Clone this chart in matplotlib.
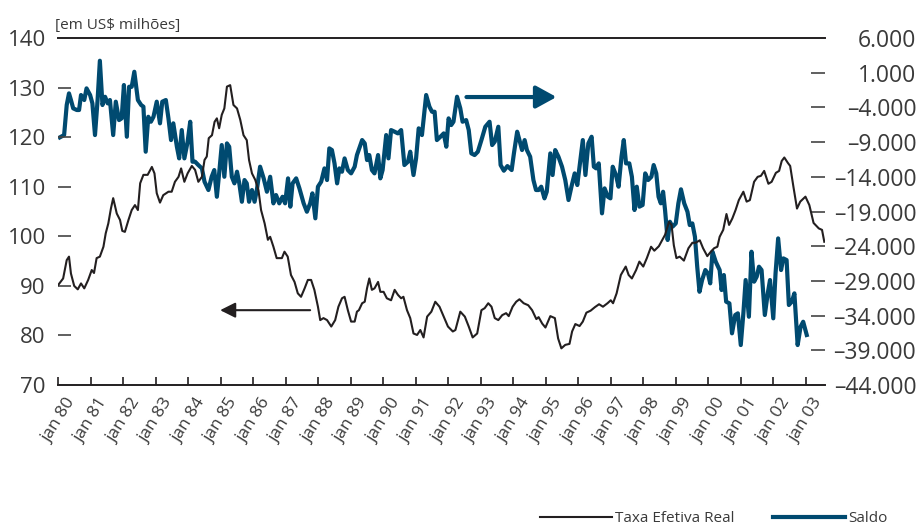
import matplotlib
matplotlib.use("Agg")
import matplotlib.pyplot as plt
import matplotlib.transforms as mtransforms
from matplotlib.lines import Line2D

plt.rcParams['font.family'] = ['Liberation Sans Narrow', 'Open Sans', 'DejaVu Sans']

# Taxa efetiva real (índice) - eixo da esquerda
taxa_t = [1980.00, 1980.15, 1980.26, 1980.33, 1980.39, 1980.49, 1980.60, 1980.70, 1980.80, 1980.92,
          1981.03, 1981.10, 1981.18, 1981.28, 1981.39, 1981.46, 1981.54, 1981.62, 1981.69, 1981.80,
          1981.90, 1981.97, 1982.05, 1982.16, 1982.26, 1982.36, 1982.45, 1982.52, 1982.62, 1982.75,
          1982.88, 1982.96, 1983.03, 1983.13, 1983.23, 1983.39, 1983.49, 1983.59, 1983.70, 1983.78,
          1983.88, 1983.98, 1984.11, 1984.21, 1984.31, 1984.42, 1984.50, 1984.57, 1984.63, 1984.73,
          1984.81, 1984.88, 1984.95, 1985.03, 1985.11, 1985.19, 1985.29, 1985.39, 1985.50, 1985.60,
          1985.70, 1985.80, 1985.87, 1985.96, 1986.06, 1986.16, 1986.24, 1986.35, 1986.45, 1986.52,
          1986.62, 1986.72, 1986.88, 1986.96, 1987.06, 1987.16, 1987.27, 1987.37, 1987.47, 1987.58,
          1987.68, 1987.78, 1987.88, 1987.99, 1988.06, 1988.16, 1988.27, 1988.40, 1988.52, 1988.62,
          1988.73, 1988.81, 1988.91, 1989.01, 1989.12, 1989.19, 1989.25, 1989.35, 1989.43, 1989.50,
          1989.57, 1989.65, 1989.73, 1989.84, 1989.91, 1990.01, 1990.11, 1990.24, 1990.35, 1990.45,
          1990.55, 1990.62, 1990.73, 1990.83, 1990.93, 1991.04, 1991.14, 1991.24, 1991.35, 1991.48,
          1991.60, 1991.73, 1991.86, 1991.99, 1992.14, 1992.22, 1992.37, 1992.51, 1992.63, 1992.75,
          1992.89, 1993.02, 1993.12, 1993.23, 1993.33, 1993.43, 1993.54, 1993.66, 1993.78, 1993.86,
          1993.98, 1994.09, 1994.19, 1994.32, 1994.46, 1994.58, 1994.71, 1994.78, 1994.89, 1994.99,
          1995.14, 1995.28, 1995.38, 1995.48, 1995.60, 1995.73, 1995.81, 1995.91, 1996.04, 1996.14,
          1996.25, 1996.38, 1996.51, 1996.64, 1996.76, 1996.90, 1997.00, 1997.07, 1997.18, 1997.31,
          1997.46, 1997.55, 1997.65, 1997.78, 1997.88, 1998.00, 1998.11, 1998.24, 1998.34, 1998.48,
          1998.67, 1998.79, 1998.87, 1998.94, 1999.02, 1999.12, 1999.25, 1999.39, 1999.51, 1999.61,
          1999.74, 1999.84, 1999.97, 2000.08, 2000.18, 2000.28, 2000.35, 2000.46, 2000.56, 2000.64,
          2000.74, 2000.84, 2000.94, 2001.08, 2001.18, 2001.28, 2001.41, 2001.52, 2001.62, 2001.72,
          2001.85, 2001.95, 2002.08, 2002.18, 2002.26, 2002.34, 2002.45, 2002.52, 2002.62, 2002.73,
          2002.83, 2002.99, 2003.11, 2003.24, 2003.40, 2003.50, 2003.57]
taxa_v = [90.2, 91.5, 95.2, 95.9, 92.5, 90.0, 89.3, 90.5, 89.5, 91.2,
          93.2, 92.6, 95.6, 95.9, 97.9, 100.6, 102.6, 105.6, 107.7, 104.6,
          103.3, 101.1, 100.9, 103.3, 105.3, 106.3, 105.3, 110.7, 112.4, 112.4,
          114.0, 112.7, 108.7, 106.8, 108.3, 109.0, 109.0, 111.0, 112.0, 113.7,
          111.0, 112.7, 114.2, 113.4, 111.0, 112.0, 115.4, 116.1, 119.8, 120.4,
          123.1, 123.8, 121.8, 124.5, 125.8, 130.2, 130.5, 126.5, 125.8, 123.5,
          120.4, 119.4, 115.4, 112.7, 111.4, 109.3, 105.3, 102.6, 99.3, 99.9,
          97.9, 95.6, 95.6, 96.9, 95.9, 92.2, 90.8, 88.5, 87.8, 89.5,
          91.2, 91.2, 89.2, 85.8, 83.1, 83.5, 83.1, 81.8, 83.1, 85.8,
          87.5, 87.8, 85.1, 82.8, 82.8, 84.8, 85.1, 86.5, 86.8, 89.5,
          91.5, 89.2, 89.5, 90.8, 88.8, 88.8, 87.5, 87.1, 89.2, 88.2,
          87.5, 87.8, 85.1, 83.5, 80.4, 80.1, 81.1, 79.6, 83.8, 84.8,
          86.8, 85.8, 83.8, 81.8, 80.8, 81.1, 84.8, 83.8, 81.8, 79.6,
          80.4, 85.1, 85.5, 86.5, 85.8, 83.5, 83.1, 84.1, 84.5, 83.9,
          85.8, 86.8, 87.3, 86.5, 86.1, 85.1, 83.3, 83.7, 82.4, 81.6,
          83.9, 83.5, 79.4, 77.4, 78.1, 78.3, 80.8, 82.3, 81.9, 82.8,
          84.6, 85.0, 85.7, 86.3, 85.8, 86.5, 87.1, 86.5, 88.5, 92.2,
          93.9, 92.2, 91.5, 93.2, 94.9, 93.9, 95.6, 97.9, 97.1, 98.0,
          100.3, 102.9, 102.3, 98.2, 95.6, 95.9, 95.1, 97.6, 98.7, 98.7,
          99.2, 97.6, 96.0, 96.9, 97.6, 97.9, 99.9, 101.3, 104.5, 102.3,
          103.6, 105.3, 107.3, 109.0, 107.0, 107.3, 111.0, 112.0, 112.2, 113.2,
          110.6, 111.0, 112.8, 113.2, 115.2, 115.9, 114.8, 114.2, 110.0, 105.6,
          107.0, 108.0, 106.3, 102.7, 101.6, 101.3, 98.9]

# Saldo (US$ milhões) - eixo da direita
saldo_t = [1980.05, 1980.18, 1980.26, 1980.33, 1980.39, 1980.46, 1980.57, 1980.64, 1980.70, 1980.80,
           1980.87, 1980.98, 1981.05, 1981.13, 1981.21, 1981.28, 1981.36, 1981.44, 1981.52, 1981.59,
           1981.69, 1981.77, 1981.87, 1981.95, 1982.02, 1982.11, 1982.18, 1982.26, 1982.34, 1982.45,
           1982.55, 1982.62, 1982.69, 1982.77, 1982.85, 1982.93, 1983.03, 1983.13, 1983.20, 1983.31,
           1983.39, 1983.47, 1983.54, 1983.65, 1983.72, 1983.80, 1983.88, 1983.98, 1984.06, 1984.13,
           1984.21, 1984.31, 1984.42, 1984.50, 1984.62, 1984.72, 1984.80, 1984.88, 1984.95, 1985.03,
           1985.11, 1985.19, 1985.26, 1985.34, 1985.42, 1985.50, 1985.57, 1985.65, 1985.73, 1985.80,
           1985.87, 1985.96, 1986.04, 1986.11, 1986.21, 1986.32, 1986.42, 1986.52, 1986.62, 1986.70,
           1986.80, 1986.90, 1986.98, 1987.07, 1987.14, 1987.21, 1987.32, 1987.42, 1987.55, 1987.65,
           1987.75, 1987.82, 1987.91, 1987.99, 1988.09, 1988.19, 1988.27, 1988.34, 1988.42, 1988.50,
           1988.58, 1988.65, 1988.73, 1988.81, 1988.91, 1989.01, 1989.12, 1989.19, 1989.35, 1989.43,
           1989.50, 1989.57, 1989.65, 1989.73, 1989.84, 1989.91, 1989.98, 1990.09, 1990.16, 1990.24,
           1990.35, 1990.45, 1990.55, 1990.65, 1990.76, 1990.83, 1990.93, 1991.01, 1991.09, 1991.19,
           1991.32, 1991.42, 1991.50, 1991.58, 1991.65, 1991.76, 1991.86, 1991.94, 1992.01, 1992.09,
           1992.16, 1992.27, 1992.37, 1992.44, 1992.55, 1992.63, 1992.71, 1992.81, 1992.91, 1993.02,
           1993.14, 1993.27, 1993.35, 1993.43, 1993.54, 1993.61, 1993.71, 1993.82, 1993.95, 1994.02,
           1994.12, 1994.19, 1994.27, 1994.35, 1994.42, 1994.52, 1994.62, 1994.70, 1994.78, 1994.86,
           1994.96, 1995.03, 1995.14, 1995.21, 1995.29, 1995.39, 1995.50, 1995.60, 1995.70, 1995.79,
           1995.89, 1995.97, 1996.07, 1996.14, 1996.22, 1996.31, 1996.41, 1996.48, 1996.55, 1996.63,
           1996.73, 1996.81, 1996.91, 1996.99, 1997.06, 1997.16, 1997.24, 1997.33, 1997.40, 1997.47,
           1997.57, 1997.65, 1997.73, 1997.80, 1997.88, 1997.98, 1998.06, 1998.15, 1998.25, 1998.32,
           1998.40, 1998.47, 1998.54, 1998.61, 1998.67, 1998.75, 1998.82, 1998.90, 1999.00, 1999.08,
           1999.16, 1999.26, 1999.36, 1999.43, 1999.51, 1999.59, 1999.66, 1999.73, 1999.81, 1999.91,
           1999.99, 2000.06, 2000.13, 2000.23, 2000.35, 2000.41, 2000.48, 2000.55, 2000.65, 2000.73,
           2000.83, 2000.91, 2001.00, 2001.08, 2001.15, 2001.25, 2001.33, 2001.41, 2001.49, 2001.56,
           2001.64, 2001.74, 2001.83, 2001.90, 2002.00, 2002.07, 2002.15, 2002.24, 2002.31, 2002.41,
           2002.48, 2002.57, 2002.65, 2002.75, 2002.84, 2002.92, 2003.03]
saldo_v = [-8310, -7980, -3650, -1970, -2930, -4130, -4370, -4370, -2210, -2930,
           -1250, -2210, -3410, -7980, -2930, 2730, -3650, -2460, -3410, -2930,
           -7980, -3170, -5820, -5570, -770, -8220, -1020, -1020, 1140, -2930,
           -3650, -3890, -10380, -5340, -6060, -5340, -3170, -6290, -3170, -2930,
           -5570, -8700, -6290, -9660, -11340, -7260, -11340, -8940, -6060, -11820,
           -11820, -12300, -12780, -14700, -15900, -13990, -13020, -16870, -13500, -9420,
           -13990, -9180, -9660, -13990, -14940, -13260, -14940, -17590, -14460, -14940,
           -17590, -15900, -17590, -15900, -12540, -14220, -16150, -13990, -17820, -16620,
           -17820, -16870, -17820, -14220, -18300, -14940, -14220, -15660, -17820, -19030,
           -17820, -16380, -19980, -15420, -14700, -12780, -14460, -9900, -10140, -12060,
           -14940, -12780, -13260, -11340, -13020, -13500, -12540, -10860, -8700, -9180,
           -11580, -10860, -13020, -13500, -10860, -14220, -13020, -7980, -11340, -7260,
           -7500, -7740, -7260, -12300, -11820, -10380, -13740, -11340, -7010, -7980,
           -2210, -3890, -4620, -4620, -8700, -8220, -7740, -9660, -5570, -6540,
           -6060, -2460, -4130, -6060, -5820, -7260, -10620, -10860, -10380, -8700,
           -6780, -6060, -9420, -8940, -6780, -12300, -13120, -12450, -13020, -10620,
           -7500, -8700, -10140, -8700, -10140, -11100, -14460, -15900, -15900, -15420,
           -17100, -16150, -10620, -13740, -10140, -11100, -12540, -14460, -17340, -15420,
           -13500, -15180, -11340, -8700, -13740, -9180, -8220, -12540, -12780, -12060,
           -19260, -15660, -16870, -17100, -12540, -13740, -15420, -11100, -8700, -12060,
           -12060, -13990, -18780, -15420, -18300, -18060, -13500, -14460, -13990, -12300,
           -13500, -16870, -17820, -16150, -18780, -23100, -20470, -21190, -20710, -17820,
           -15800, -17820, -19030, -20950, -20710, -22630, -26950, -30560, -28870, -27430,
           -27910, -29350, -24790, -26230, -27430, -30310, -28150, -31990, -32230, -36550,
           -33910, -33670, -38240, -33670, -28870, -34160, -24790, -29110, -28390, -26950,
           -27430, -33910, -30790, -28870, -34390, -27910, -22870, -27430, -25750, -25990,
           -32470, -31990, -30790, -38240, -35600, -34880, -36790]

anos = list(range(1980, 2004))
rotulos_x = ['jan %02d' % (a % 100) for a in anos]
ticks_esq = [70, 80, 90, 100, 110, 120, 130, 140]
ticks_dir = [-44000, -39000, -34000, -29000, -24000, -19000, -14000, -9000, -4000, 1000, 6000]

PRETO = '#231f20'
AZUL = '#004a70'
CINZA = '#3a3a3a'


def fmt_milhar(v):
    s = '{:,}'.format(abs(int(v))).replace(',', '.')
    return ('\u2013' + s) if v < 0 else s


fig = plt.figure(figsize=(9.19, 5.27), dpi=100)
ax = fig.add_axes([0.0634, 0.2694, 0.8339, 0.6584])
ax2 = ax.twinx()

ax2.plot(saldo_t, saldo_v, color=AZUL, lw=3.0, solid_joinstyle='round')
ax.plot(taxa_t, taxa_v, color=PRETO, lw=1.5)

# a taxa fica por cima do saldo
ax.set_zorder(ax2.get_zorder() + 1)
ax.patch.set_visible(False)

ax.set_xlim(1980, 2003.58)
ax.set_ylim(70, 140)
ax2.set_ylim(-44000, 6000)

for s in ['left', 'right']:
    ax.spines[s].set_visible(False)
for s in ax2.spines.values():
    s.set_visible(False)
for s in ['top', 'bottom']:
    ax.spines[s].set_color(PRETO)
    ax.spines[s].set_linewidth(1.4)

# eixo x
ax.set_xticks(anos)
ax.set_xticklabels(rotulos_x, rotation=58, ha='right', rotation_mode='anchor',
                   fontsize=12.5, color=CINZA)
ax.tick_params(axis='x', direction='in', length=6, width=1.2, color=PRETO, pad=7)
desloc = mtransforms.ScaledTranslation(5 / 72, 0, fig.dpi_scale_trans)
for lbl in ax.get_xticklabels():
    lbl.set_transform(lbl.get_transform() + desloc)

# eixo esquerdo
ax.set_yticks(ticks_esq)
ax.set_yticklabels([str(v) for v in ticks_esq])
ax.tick_params(axis='y', direction='in', length=9.5, width=1.2, color='#444444',
               pad=9, labelsize=16, labelcolor=CINZA)
for t, v in zip(ax.yaxis.get_major_ticks(), ticks_esq):
    if v in (70, 140):
        t.tick1line.set_visible(False)

# eixo direito
ax2.set_yticks(ticks_dir)
ax2.set_yticklabels([fmt_milhar(v) for v in ticks_dir])
ax2.tick_params(axis='y', direction='in', length=10, width=1.2, color='#444444',
                pad=66, labelsize=16.5, labelcolor=CINZA)
for t, v in zip(ax2.yaxis.get_major_ticks(), ticks_dir):
    t.label2.set_horizontalalignment('right')
    if v in (-44000, 6000):
        t.tick2line.set_visible(False)

# setas indicando o eixo de cada série
ax.annotate('', xy=(1984.98, 85.1), xytext=(1987.75, 85.1),
            arrowprops=dict(arrowstyle='-|>', color=PRETO, lw=1.5,
                            mutation_scale=23, shrinkA=0, shrinkB=0))
ax.annotate('', xy=(1995.33, 128.1), xytext=(1992.56, 128.1),
            arrowprops=dict(arrowstyle='-|>,head_length=0.4,head_width=0.22', color=AZUL,
                            lw=3, mutation_scale=31, shrinkA=0, shrinkB=0))

fig.text(55 / 919, 1 - 26 / 527, '[em US$ milhões]', fontsize=11, color=CINZA,
         va='center', ha='left')

handles = [Line2D([], [], color=PRETO, lw=1.5), Line2D([], [], color=AZUL, lw=3)]
fig.legend(handles, ['Taxa Efetiva Real', 'Saldo'], loc='center left',
           bbox_to_anchor=(540 / 919, 1 - 519 / 527), frameon=False, ncol=2,
           fontsize=11, handlelength=4.7, handletextpad=0.2, columnspacing=2.55,
           borderpad=0, borderaxespad=0, labelcolor=CINZA)

fig.savefig('out.png', dpi=100)
